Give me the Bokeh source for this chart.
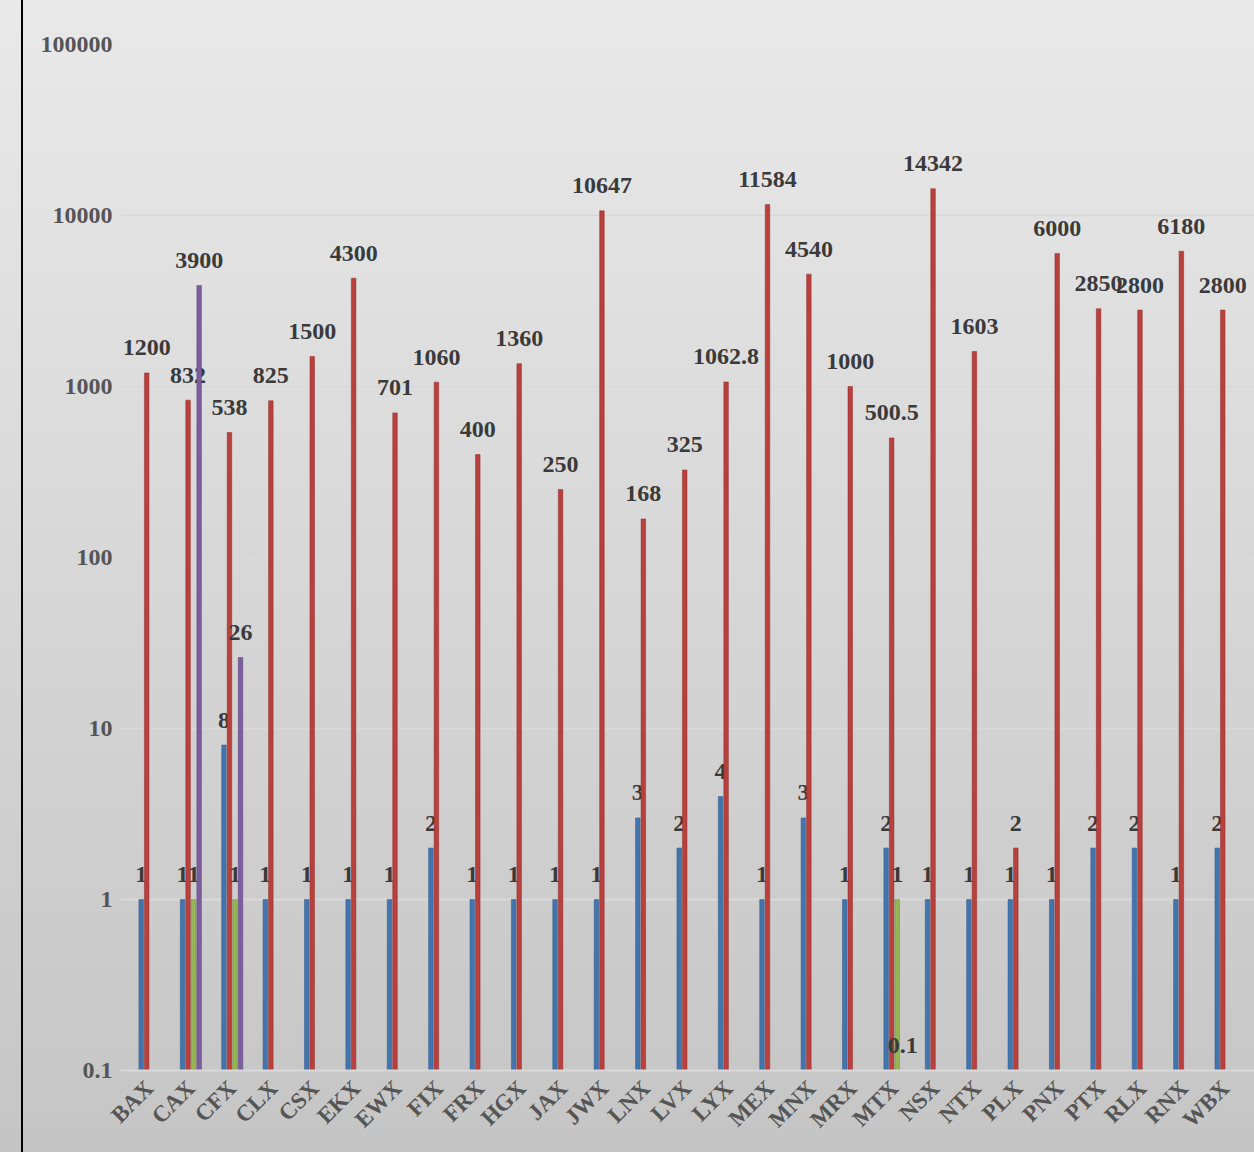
import math
from bokeh.plotting import figure
from bokeh.models import ColumnDataSource, Range1d, FixedTicker, CustomJSTickFormatter
from bokeh.transform import dodge
from bokeh.core.properties import value
from bokeh.embed import file_html
from bokeh.resources import INLINE

categories = ["BAX", "CAX", "CFX", "CLX", "CSX", "EKX", "EWX", "FIX", "FRX", "HGX",
              "JAX", "JWX", "LNX", "LVX", "LYX", "MEX", "MNX", "MRX", "MTX", "NSX",
              "NTX", "PLX", "PNX", "PTX", "RLX", "RNX", "WBX"]
nan = float("nan")
series_blue = [1, 1, 8, 1, 1, 1, 1, 2, 1, 1, 1, 1, 3, 2, 4, 1, 3, 1, 2, 1, 1, 1, 1, 2, 2, 1, 2]
series_red = [1200, 832, 538, 825, 1500, 4300, 701, 1060, 400, 1360, 250, 10647, 168, 325,
              1062.8, 11584, 4540, 1000, 500.5, 14342, 1603, 2, 6000, 2850, 2800, 6180, 2800]
series_green = [nan, 1, 1, nan, nan, nan, nan, nan, nan, nan, nan, nan, nan, nan,
                nan, nan, nan, nan, 1, nan, nan, nan, nan, nan, nan, nan, nan]
series_purple = [nan, 3900, 26, nan, nan, nan, nan, nan, nan, nan, nan, nan, nan, nan,
                 nan, nan, nan, nan, 0.1, nan, nan, nan, nan, nan, nan, nan, nan]
y_ticks = [0.1, 1, 10, 100, 1000, 10000, 100000]

series = [
    (series_blue, "#4274ad", "#2f5a8c", -0.2),
    (series_red, "#b8403d", "#8f2d2b", -0.067),
    (series_green, "#94b653", "#6f8c38", 0.067),
    (series_purple, "#7c5e9f", "#5c4479", 0.2),
]

FONT = value("Liberation Serif")

p = figure(x_range=categories, y_range=Range1d(0.1, 100000), y_axis_type="log",
           width=1254, height=1152, output_backend="svg", toolbar_location=None,
           min_border_left=120, min_border_right=0, min_border_top=44, min_border_bottom=82,
           margin=(0, 0, 0, 0))
p.x_range.range_padding = 0.2
p.x_range.range_padding_units = "absolute"
p.styles = {"background": "linear-gradient(to right, transparent 21px, #000000 21px, #000000 23px, transparent 23px), linear-gradient(#e9e9e9, #c5c5c5)"}
p.background_fill_alpha = 0
p.border_fill_alpha = 0
p.outline_line_color = None

for vals, color, edge, off in series:
    xs = [c for c, v in zip(categories, vals) if not math.isnan(v)]
    ys = [v for v in vals if not math.isnan(v)]
    labels = [f"{v:g}" for v in ys]
    src = ColumnDataSource(dict(cat=xs, val=ys, lbl=labels))
    p.vbar(x=dodge("cat", off, range=p.x_range), top="val", bottom=0.1, width=0.11,
           source=src, fill_color=color, line_color=edge, line_width=0.5)
    p.text(x=dodge("cat", off, range=p.x_range), y="val", text="lbl", source=src,
           text_align="center", text_baseline="middle", y_offset=-25,
           text_font=FONT, text_font_style="bold", text_font_size="24px",
           text_color="#3a3a3a")

p.xgrid.grid_line_color = None
p.ygrid.grid_line_color = "#d9d9d9"
p.ygrid.grid_line_width = 2
p.yaxis.ticker = FixedTicker(ticks=y_ticks)
p.yaxis.formatter = CustomJSTickFormatter(code="return tick < 1 ? tick.toFixed(1) : tick.toFixed(0);")
p.yaxis.minor_tick_line_color = None
p.yaxis.major_tick_line_color = None
p.yaxis.major_tick_out = 0
p.yaxis.major_tick_in = 0
p.yaxis.axis_line_color = None
p.yaxis.major_label_standoff = 8
p.yaxis.major_label_text_font_size = "24px"

p.xaxis.axis_line_color = "#d9d9d9"
p.xaxis.axis_line_width = 2
p.xaxis.major_tick_line_color = None
p.xaxis.minor_tick_line_color = None
p.xaxis.major_label_orientation = math.pi / 4
p.xaxis.major_label_standoff = 8
p.xaxis.major_label_text_font_size = "23px"

for ax in (p.xaxis, p.yaxis):
    ax.major_label_text_font = "Liberation Serif"
    ax.major_label_text_font_style = "bold"
    ax.major_label_text_color = "#555555"

open("out.html", "w").write(file_html(p, INLINE))
